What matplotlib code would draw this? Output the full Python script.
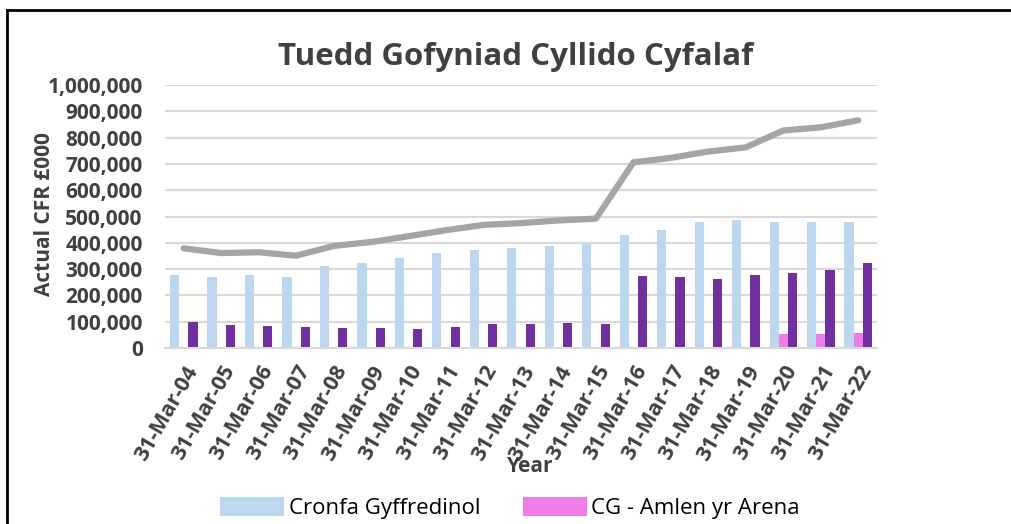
import numpy as np
import matplotlib.pyplot as plt
from matplotlib.lines import Line2D

years = ['31-Mar-04', '31-Mar-05', '31-Mar-06', '31-Mar-07', '31-Mar-08', '31-Mar-09',
         '31-Mar-10', '31-Mar-11', '31-Mar-12', '31-Mar-13', '31-Mar-14', '31-Mar-15',
         '31-Mar-16', '31-Mar-17', '31-Mar-18', '31-Mar-19', '31-Mar-20', '31-Mar-21',
         '31-Mar-22']

cronfa = [277000, 269000, 279000, 269000, 311000, 325000, 344000, 363000, 374000,
          380000, 389000, 397000, 428000, 447000, 480000, 485000, 478000, 478000, 480000]
arena = [0, 0, 0, 0, 0, 0, 0, 0, 0, 0, 0, 0, 0, 0, 0, 0, 52000, 52000, 56000]
cyngor = [99000, 86000, 82000, 78000, 76000, 75000, 73000, 78000, 90000, 91000, 94000,
          91000, 272000, 270000, 263000, 276000, 286000, 297000, 322000]
cyfanswm = [379000, 361000, 364000, 351000, 388000, 403000, 425000, 448000, 468000,
            475000, 485000, 492000, 706000, 723000, 747000, 763000, 827000, 839000, 866000]

txt = '#404040'
plt.rcParams['font.family'] = ['Open Sans', 'DejaVu Sans']

fig = plt.figure(figsize=(10.12, 5.24), dpi=100)
ax = fig.add_axes([165 / 1012, 1 - 348 / 524, 712 / 1012, 263 / 524])

x = np.arange(len(years))
w = 0.245
ax.bar(x - w, cronfa, w, color='#bdd7ee', label='Cronfa Gyffredinol', zorder=2)
ax.bar(x, arena, w, color='#f07ce8', label='CG - Amlen yr Arena', zorder=2)
ax.bar(x + w, cyngor, w, color='#7030a0', zorder=2)
ax.plot(x, cyfanswm, color='#a5a5a5', lw=4.5, solid_capstyle='round', zorder=3)

ax.set_xlim(-0.5, len(years) - 0.5)
ax.set_ylim(0, 1000000)
ax.set_yticks(np.arange(0, 1000001, 100000))
ax.set_yticklabels([f'{v:,}' for v in range(0, 1000001, 100000)],
                   fontsize=15, fontweight='bold', color=txt)
ax.set_xticks(x)
ax.set_xticklabels(years, rotation=60, ha='right', rotation_mode='anchor',
                   fontsize=15.5, fontweight='bold', color=txt)
ax.tick_params(length=0)
ax.tick_params(axis='y', pad=16)
ax.tick_params(axis='x', pad=10)
ax.grid(axis='y', color='#d9d9d9', lw=1.5, zorder=0)
for s in ['top', 'right', 'left']:
    ax.spines[s].set_visible(False)
ax.spines['bottom'].set_color('#d9d9d9')
ax.spines['bottom'].set_linewidth(1.5)

ax.set_ylabel('Actual CFR £000', fontsize=15, fontweight='bold', color=txt)
ax.yaxis.set_label_coords(-0.155, 0.51)
fig.text(530 / 1012, 1 - 466 / 524, 'Year', fontsize=15, fontweight='bold',
         color=txt, ha='center', va='center')
fig.text(516 / 1012, 1 - 57 / 524, 'Tuedd Gofyniad Cyllido Cyfalaf', fontsize=22.5,
         fontweight='bold', color=txt, ha='center', va='center')

fig.legend(loc='center', bbox_to_anchor=(510 / 1012, 1 - 508 / 524), ncol=2,
           frameon=False, fontsize=16, handlelength=2.9, handleheight=0.95,
           columnspacing=1.9, handletextpad=0.2, labelcolor='black')

fig.add_artist(Line2D([7 / 1012, 7 / 1012], [0, 1 - 10 / 524], color='black', lw=2))
fig.add_artist(Line2D([7 / 1012, 1], [1 - 10 / 524, 1 - 10 / 524], color='black', lw=2))

fig.savefig('out.png', dpi=100)
